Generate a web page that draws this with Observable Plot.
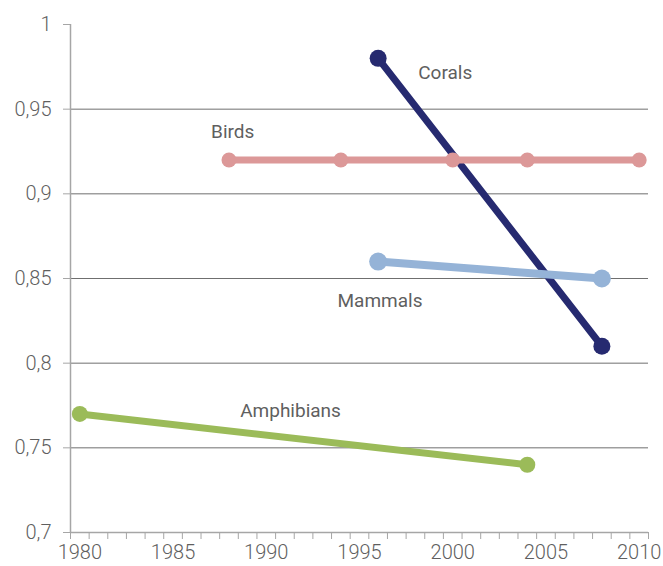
<!DOCTYPE html>
<html>
<head>
<meta charset="utf-8">
<script src="https://cdn.jsdelivr.net/npm/d3@7"></script>
<script src="https://cdn.jsdelivr.net/npm/@observablehq/plot@0.6"></script>
<style>
  html, body { margin: 0; padding: 0; background: #fff; }
  #chart svg { display: block; }
</style>
</head>
<body>
<div id="chart"></div>
<script>
// Data
const coralsYears = [1996, 2008];
const coralsValues = [0.98, 0.81];
const birdsYears = [1988, 1994, 2000, 2004, 2010];
const birdsValues = [0.92, 0.92, 0.92, 0.92, 0.92];
const mammalsYears = [1996, 2008];
const mammalsValues = [0.86, 0.85];
const amphibiansYears = [1980, 2004];
const amphibiansValues = [0.77, 0.74];

const seriesLabels = ["Corals", "Birds", "Mammals", "Amphibians"];
const labelYears = [1999.6, 1988.2, 1996.1, 1991.3];
const labelValues = [0.9716, 0.9368, 0.837, 0.772];

const xTickLabels = [1980, 1985, 1990, 1995, 2000, 2005, 2010];
const yTickLabels = [0.7, 0.75, 0.8, 0.85, 0.9, 0.95, 1];
const gridValues = [0.75, 0.8, 0.85, 0.9, 0.95];
const categoryYears = d3.range(1980, 2011);
const categoryEdges = [...categoryYears.map(y => y - 0.5), 2010.5];

const toRows = (xs, ys) => xs.map((x, i) => ({x, y: ys[i]}));
const corals = toRows(coralsYears, coralsValues);
const birds = toRows(birdsYears, birdsValues);
const mammals = toRows(mammalsYears, mammalsValues);
const amphibians = toRows(amphibiansYears, amphibiansValues);
const labels = seriesLabels.map((t, i) => ({t, x: labelYears[i], y: labelValues[i]}));

const font = "Roboto, 'Liberation Sans', sans-serif";
const axisGray = "#a6a6a6";
const textGray = "#5f5f5f";

const chart = Plot.plot({
  width: 663,
  height: 566,
  marginLeft: 70,
  marginRight: 15,
  marginTop: 24,
  marginBottom: 34,
  style: {fontFamily: font, fontSize: "19px", fontWeight: 300, color: textGray, background: "#fff"},
  x: {domain: [1979.5, 2010.5]},
  y: {domain: [0.7, 1]},
  marks: [
    Plot.ruleY(gridValues, {x1: 1979.5, x2: 2010.5, stroke: "#6f6f6f", strokeWidth: 1}),
    Plot.ruleX([1979.5], {y1: 0.7, y2: 1, stroke: axisGray, strokeWidth: 1.5}),
    Plot.ruleY([0.7], {x1: 1979.5, x2: 2010.5, stroke: axisGray, strokeWidth: 1.5}),
    Plot.axisY({ticks: yTickLabels, tickSize: 7, tickPadding: 12, stroke: axisGray,
      tickFormat: d => String(d).replace(".", ","), fill: textGray, label: null, fontSize: 20}),
    Plot.axisX({ticks: categoryEdges, tickSize: 7, tickFormat: () => "", stroke: axisGray, label: null}),
    Plot.axisX({ticks: xTickLabels, tickSize: 0, tickPadding: 12, tickFormat: d => String(d), fill: textGray, label: null, fontSize: 20}),
    // Corals
    Plot.line(corals, {x: "x", y: "y", stroke: "#262a70", strokeWidth: 7}),
    Plot.dot(corals, {x: "x", y: "y", fill: "#262a70", r: 8.5}),
    // Birds
    Plot.line(birds, {x: "x", y: "y", stroke: "#dc9898", strokeWidth: 7}),
    Plot.dot(birds, {x: "x", y: "y", fill: "#dc9898", r: 7.5}),
    // Mammals
    Plot.line(mammals, {x: "x", y: "y", stroke: "#95b3d7", strokeWidth: 8}),
    Plot.dot(mammals, {x: "x", y: "y", fill: "#95b3d7", r: 9}),
    // Amphibians
    Plot.line(amphibians, {x: "x", y: "y", stroke: "#9bbb59", strokeWidth: 7}),
    Plot.dot(amphibians, {x: "x", y: "y", fill: "#9bbb59", r: 8}),
    // Labels
    Plot.text(labels, {x: "x", y: "y", text: "t", fill: textGray, fontSize: 19, fontWeight: 400, textAnchor: "middle"})
  ]
});
document.getElementById("chart").appendChild(chart);
</script>
</body>
</html>
